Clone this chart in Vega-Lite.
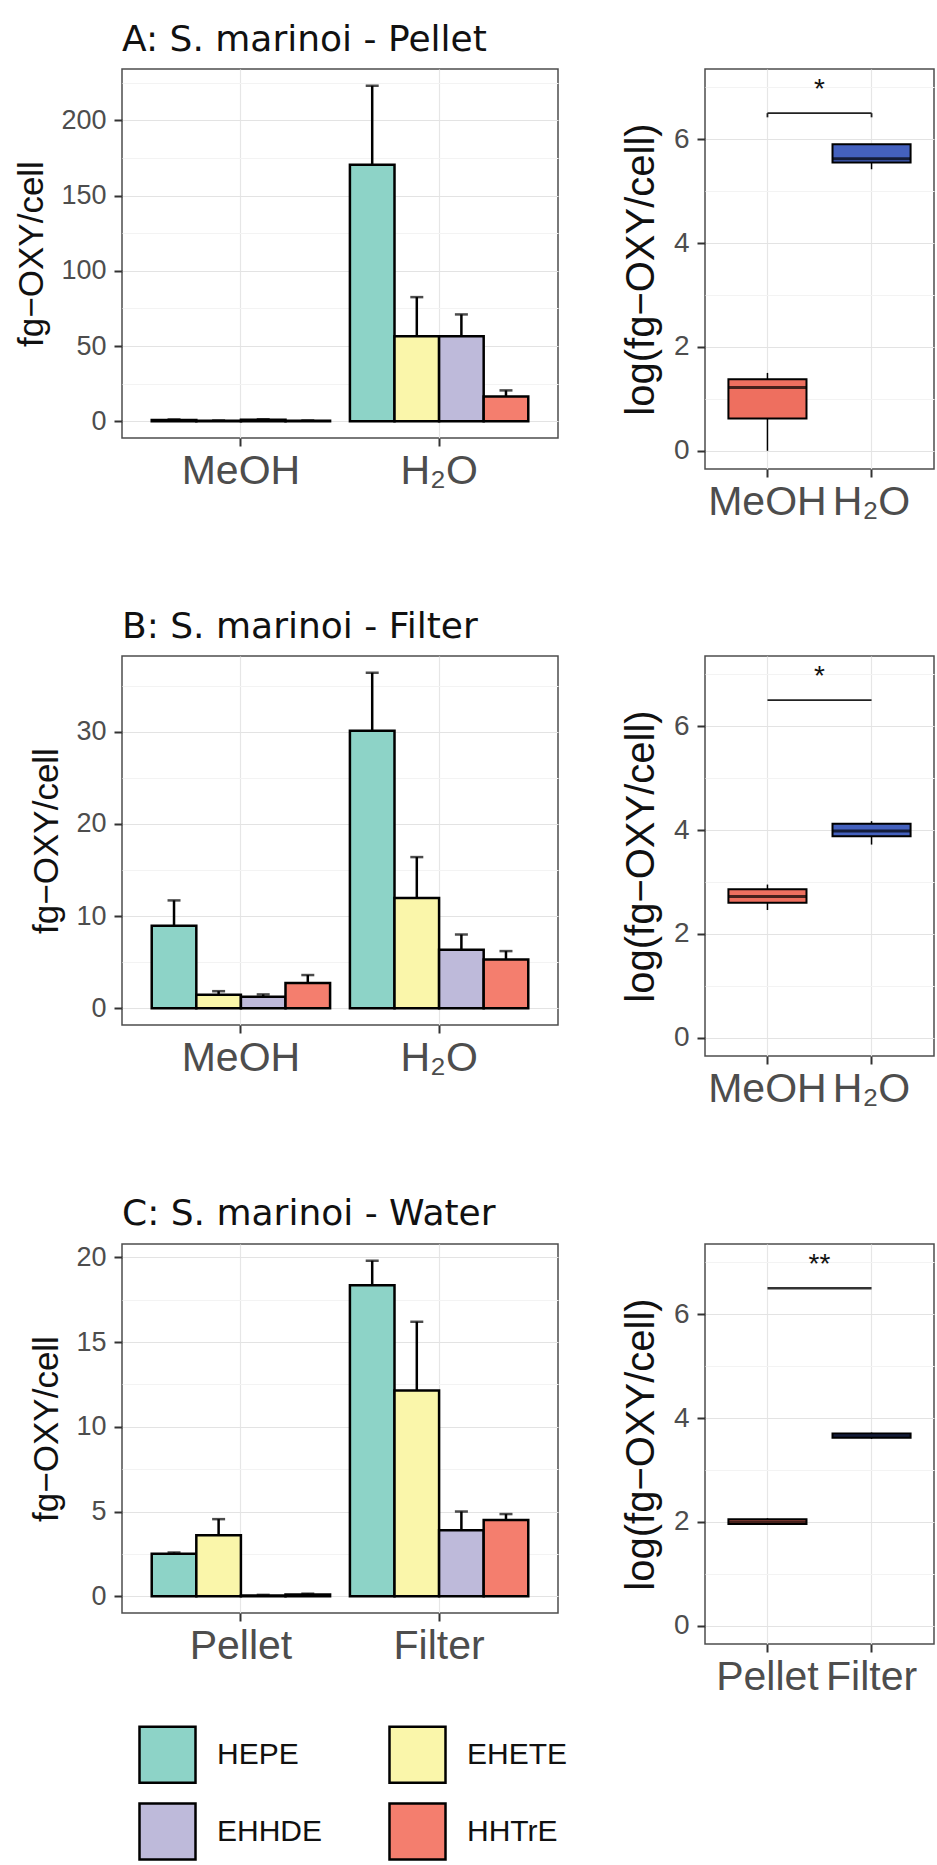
{
  "$schema": "https://vega.github.io/schema/vega-lite/v6.json",
  "padding": {"left": 14, "top": 21, "right": 1, "bottom": 6},
  "background": "white",
  "datasets": {
    "bars": [
      {"panel": "A", "group": "MeOH", "compound": "HEPE", "mean": 0.8, "upper": 1.2},
      {"panel": "A", "group": "MeOH", "compound": "EHETE", "mean": 0.3, "upper": 0.5},
      {"panel": "A", "group": "MeOH", "compound": "EHHDE", "mean": 0.9, "upper": 1.3},
      {"panel": "A", "group": "MeOH", "compound": "HHTrE", "mean": 0.3, "upper": 0.5},
      {"panel": "A", "group": "H₂O", "compound": "HEPE", "mean": 170.5, "upper": 223},
      {"panel": "A", "group": "H₂O", "compound": "EHETE", "mean": 56.5, "upper": 82.5},
      {"panel": "A", "group": "H₂O", "compound": "EHHDE", "mean": 56.5, "upper": 71},
      {"panel": "A", "group": "H₂O", "compound": "HHTrE", "mean": 16.5, "upper": 20.5},
      {"panel": "B", "group": "MeOH", "compound": "HEPE", "mean": 8.95, "upper": 11.7},
      {"panel": "B", "group": "MeOH", "compound": "EHETE", "mean": 1.45, "upper": 1.85},
      {"panel": "B", "group": "MeOH", "compound": "EHHDE", "mean": 1.25, "upper": 1.5},
      {"panel": "B", "group": "MeOH", "compound": "HHTrE", "mean": 2.75, "upper": 3.6},
      {"panel": "B", "group": "H₂O", "compound": "HEPE", "mean": 30.1, "upper": 36.4},
      {"panel": "B", "group": "H₂O", "compound": "EHETE", "mean": 11.95, "upper": 16.4},
      {"panel": "B", "group": "H₂O", "compound": "EHHDE", "mean": 6.35, "upper": 8.0},
      {"panel": "B", "group": "H₂O", "compound": "HHTrE", "mean": 5.3, "upper": 6.2},
      {"panel": "C", "group": "Pellet", "compound": "HEPE", "mean": 2.5, "upper": 2.58},
      {"panel": "C", "group": "Pellet", "compound": "EHETE", "mean": 3.6, "upper": 4.55},
      {"panel": "C", "group": "Pellet", "compound": "EHHDE", "mean": 0.05, "upper": 0.08},
      {"panel": "C", "group": "Pellet", "compound": "HHTrE", "mean": 0.1, "upper": 0.15},
      {"panel": "C", "group": "Filter", "compound": "HEPE", "mean": 18.35, "upper": 19.8},
      {"panel": "C", "group": "Filter", "compound": "EHETE", "mean": 12.15, "upper": 16.2},
      {"panel": "C", "group": "Filter", "compound": "EHHDE", "mean": 3.9, "upper": 5.0},
      {"panel": "C", "group": "Filter", "compound": "HHTrE", "mean": 4.5, "upper": 4.85}
    ],
    "boxes": [
      {"panel": "A", "group": "MeOH", "lower": 0.0, "q1": 0.62, "median": 1.22, "q3": 1.38, "upper": 1.5},
      {"panel": "A", "group": "H₂O", "lower": 5.42, "q1": 5.55, "median": 5.62, "q3": 5.9, "upper": 5.9},
      {"panel": "B", "group": "MeOH", "lower": 2.46, "q1": 2.6, "median": 2.72, "q3": 2.86, "upper": 2.95},
      {"panel": "B", "group": "H₂O", "lower": 3.72, "q1": 3.88, "median": 3.98, "q3": 4.12, "upper": 4.17},
      {"panel": "C", "group": "Pellet", "lower": 1.94, "q1": 1.96, "median": 2.0, "q3": 2.05, "upper": 2.07},
      {"panel": "C", "group": "Filter", "lower": 3.6, "q1": 3.62, "median": 3.66, "q3": 3.7, "upper": 3.72}
    ],
    "sig": [
      {"panel": "A", "x1": 1, "x2": 2, "xmid": 1.5, "y": 6.5, "ylow": 6.42, "ystar": 6.95, "label": "*"},
      {"panel": "B", "x1": 1, "x2": 2, "xmid": 1.5, "y": 6.5, "ylow": null, "ystar": 6.95, "label": "*"},
      {"panel": "C", "x1": 1, "x2": 2, "xmid": 1.5, "y": 6.5, "ylow": null, "ystar": 6.95, "label": "**"}
    ]
  },
  "config": {
    "font": "Liberation Sans",
    "view": {"stroke": "#4D4D4D", "strokeWidth": 1.5},
    "axis": {
      "domain": false, "grid": true, "gridColor": "#E6E6E6", "gridWidth": 1.2,
      "tickColor": "#333333", "tickSize": 8, "tickWidth": 2,
      "labelColor": "#4D4D4D", "labelFont": "Liberation Sans",
      "titleColor": "#111111", "titleFont": "Liberation Sans", "titleFontWeight": "normal", "titleFontSize": 35
    },
    "axisX": {"labelFontSize": 41, "labelPadding": 5, "labelAngle": 0},
    "axisY": {"labelFontSize": 27, "labelPadding": 8, "titlePadding": 11},
    "title": {"font": "DejaVu Sans", "fontSize": 36, "fontWeight": "normal", "anchor": "start", "frame": "group", "offset": 10, "color": "#111111"},
    "legend": {
      "symbolType": "square", "symbolSize": 3136, "symbolStrokeColor": "black", "symbolStrokeWidth": 2.5,
      "labelFontSize": 30, "labelColor": "#111111", "labelFont": "Liberation Sans",
      "columnPadding": 61, "rowPadding": 10, "labelOffset": 20, "padding": 0
    }
  },
  "bounds": "full",
  "spacing": 85,
  "vconcat": [
    {
      "bounds": "flush",
      "spacing": 147,
      "hconcat": [
        {
          "width": 436, "height": 369,
          "title": {"text": "A: S. marinoi - Pellet"},
          "data": {"name": "bars"},
          "transform": [{"filter": "datum.panel === 'A'"}],
          "encoding": {
            "x": {"field": "group", "type": "nominal", "sort": ["MeOH", "H₂O"], "title": null,
                  "scale": {"paddingInner": 0.1, "paddingOuter": 0.15},
                  "axis": {"bandPosition": 0.5, "labelOverlap": false}},
            "xOffset": {"field": "compound", "type": "nominal", "sort": ["HEPE", "EHETE", "EHHDE", "HHTrE"],
                        "scale": {"paddingInner": 0, "paddingOuter": 0}}
          },
          "layer": [
            {"mark": {"type": "rule", "color": "black", "strokeWidth": 2.5},
             "encoding": {"y": {"field": "mean", "type": "quantitative", "title": "fg−OXY/cell"}, "y2": {"field": "upper"}}},
            {"mark": {"type": "tick", "color": "black", "size": 13, "thickness": 2.5, "orient": "horizontal"},
             "encoding": {"y": {"field": "upper", "type": "quantitative", "title": "fg−OXY/cell"}}},
            {"mark": {"type": "bar", "stroke": "black", "strokeWidth": 2.5},
             "encoding": {
               "y": {"field": "mean", "type": "quantitative", "title": "fg−OXY/cell",
                     "scale": {"domain": [-11.15, 234.15], "nice": false, "zero": false},
                     "axis": {"values": [0, 25, 50, 75, 100, 125, 150, 175, 200, 225],
                              "labelExpr": "datum.value % 50 === 0 ? datum.label : ''",
                              "tickOpacity": {"condition": {"test": "datum.value % 50 === 0", "value": 1}, "value": 0},
                              "gridColor": {"condition": {"test": "datum.value % 50 === 0", "value": "#E3E3E3"}, "value": "#F3F3F3"}}},
               "y2": {"datum": 0},
               "fill": {"field": "compound", "type": "nominal",
                        "scale": {"domain": ["HEPE", "EHETE", "EHHDE", "HHTrE"], "range": ["#8DD3C7", "#FAF6AA", "#BEBADA", "#F47E6E"]},
                        "legend": {"orient": "none", "legendX": 16, "legendY": 1656, "direction": "horizontal", "columns": 2, "title": null}}
             }}
          ]
        },
        {
          "width": 229, "height": 400,
          "resolve": {"scale": {"x": "independent"}, "axis": {"x": "independent"}},
          "layer": [
            {
              "data": {"name": "boxes"},
              "transform": [{"filter": "datum.panel === 'A'"}],
              "encoding": {
                "x": {"field": "group", "type": "nominal", "sort": ["MeOH", "H₂O"], "title": null,
                      "scale": {"paddingInner": 0.25, "paddingOuter": 0.225},
                      "axis": {"bandPosition": 0.5, "labelOverlap": false}}
              },
              "layer": [
                {"mark": {"type": "rule", "color": "black", "strokeWidth": 1.5},
                 "encoding": {
                   "y": {"field": "lower", "type": "quantitative", "title": "log(fg−OXY/cell)",
                         "scale": {"domain": [-0.35, 7.35], "nice": false, "zero": false},
                         "axis": {"values": [0, 1, 2, 3, 4, 5, 6, 7], "labelFontSize": 28, "titleFontSize": 40, "titlePadding": 12,
                                  "labelExpr": "datum.value % 2 === 0 ? datum.label : ''",
                                  "tickOpacity": {"condition": {"test": "datum.value % 2 === 0", "value": 1}, "value": 0},
                                  "gridColor": {"condition": {"test": "datum.value % 2 === 0", "value": "#E3E3E3"}, "value": "#F3F3F3"}}},
                   "y2": {"field": "upper"}}},
                {"mark": {"type": "bar", "stroke": "black", "strokeWidth": 2},
                 "encoding": {
                   "y": {"field": "q1", "type": "quantitative", "title": "log(fg−OXY/cell)"}, "y2": {"field": "q3"},
                   "fill": {"condition": {"test": "datum.group === 'MeOH' || datum.group === 'Pellet'", "value": "#EE6F5F"}, "value": "#4461BE"}}},
                {"mark": {"type": "tick", "color": "black", "thickness": 3, "size": 78, "orient": "horizontal"},
                 "encoding": {"y": {"field": "median", "type": "quantitative", "title": "log(fg−OXY/cell)"}}}
              ]
            },
            {
              "data": {"name": "sig"},
              "transform": [{"filter": "datum.panel === 'A'"}],
              "encoding": {
                "x": {"field": "x1", "type": "quantitative", "scale": {"domain": [0.4, 2.6], "nice": false, "zero": false}, "axis": null}
              },
              "layer": [
                {"mark": {"type": "rule", "color": "#222222", "strokeWidth": 1.8},
                 "encoding": {"x2": {"field": "x2"}, "y": {"field": "y", "type": "quantitative", "title": "log(fg−OXY/cell)"}}},
                {"transform": [{"filter": "isValid(datum.ylow)"}],
                 "mark": {"type": "rule", "color": "#222222", "strokeWidth": 1.8},
                 "encoding": {"y": {"field": "ylow", "type": "quantitative", "title": "log(fg−OXY/cell)"}, "y2": {"field": "y"}}},
                {"transform": [{"filter": "isValid(datum.ylow)"}],
                 "mark": {"type": "rule", "color": "#222222", "strokeWidth": 1.8},
                 "encoding": {"x": {"field": "x2", "type": "quantitative"}, "y": {"field": "ylow", "type": "quantitative", "title": "log(fg−OXY/cell)"}, "y2": {"field": "y"}}},
                {"mark": {"type": "text", "fontSize": 28, "baseline": "middle", "align": "center", "color": "#111111"},
                 "encoding": {"x": {"field": "xmid", "type": "quantitative"}, "y": {"field": "ystar", "type": "quantitative", "title": "log(fg−OXY/cell)"}, "text": {"field": "label"}}}
              ]
            }
          ]
        }
      ]
    },
    {
      "bounds": "flush",
      "spacing": 147,
      "hconcat": [
        {
          "width": 436, "height": 369,
          "title": {"text": "B: S. marinoi - Filter"},
          "data": {"name": "bars"},
          "transform": [{"filter": "datum.panel === 'B'"}],
          "encoding": {
            "x": {"field": "group", "type": "nominal", "sort": ["MeOH", "H₂O"], "title": null,
                  "scale": {"paddingInner": 0.1, "paddingOuter": 0.15},
                  "axis": {"bandPosition": 0.5, "labelOverlap": false}},
            "xOffset": {"field": "compound", "type": "nominal", "sort": ["HEPE", "EHETE", "EHHDE", "HHTrE"],
                        "scale": {"paddingInner": 0, "paddingOuter": 0}}
          },
          "layer": [
            {"mark": {"type": "rule", "color": "black", "strokeWidth": 2.5},
             "encoding": {"y": {"field": "mean", "type": "quantitative", "title": "fg−OXY/cell"}, "y2": {"field": "upper"}}},
            {"mark": {"type": "tick", "color": "black", "size": 13, "thickness": 2.5, "orient": "horizontal"},
             "encoding": {"y": {"field": "upper", "type": "quantitative", "title": "fg−OXY/cell"}}},
            {"mark": {"type": "bar", "stroke": "black", "strokeWidth": 2.5},
             "encoding": {
               "y": {"field": "mean", "type": "quantitative", "title": "fg−OXY/cell",
                     "scale": {"domain": [-1.82, 38.22], "nice": false, "zero": false},
                     "axis": {"values": [0, 5, 10, 15, 20, 25, 30, 35],
                              "labelExpr": "datum.value % 10 === 0 ? datum.label : ''",
                              "tickOpacity": {"condition": {"test": "datum.value % 10 === 0", "value": 1}, "value": 0},
                              "gridColor": {"condition": {"test": "datum.value % 10 === 0", "value": "#E3E3E3"}, "value": "#F3F3F3"}}},
               "y2": {"datum": 0},
               "fill": {"field": "compound", "type": "nominal",
                        "scale": {"domain": ["HEPE", "EHETE", "EHHDE", "HHTrE"], "range": ["#8DD3C7", "#FAF6AA", "#BEBADA", "#F47E6E"]},
                        "legend": {"orient": "none", "legendX": 16, "legendY": 1656, "direction": "horizontal", "columns": 2, "title": null}}
             }}
          ]
        },
        {
          "width": 229, "height": 400,
          "resolve": {"scale": {"x": "independent"}, "axis": {"x": "independent"}},
          "layer": [
            {
              "data": {"name": "boxes"},
              "transform": [{"filter": "datum.panel === 'B'"}],
              "encoding": {
                "x": {"field": "group", "type": "nominal", "sort": ["MeOH", "H₂O"], "title": null,
                      "scale": {"paddingInner": 0.25, "paddingOuter": 0.225},
                      "axis": {"bandPosition": 0.5, "labelOverlap": false}}
              },
              "layer": [
                {"mark": {"type": "rule", "color": "black", "strokeWidth": 1.5},
                 "encoding": {
                   "y": {"field": "lower", "type": "quantitative", "title": "log(fg−OXY/cell)",
                         "scale": {"domain": [-0.35, 7.35], "nice": false, "zero": false},
                         "axis": {"values": [0, 1, 2, 3, 4, 5, 6, 7], "labelFontSize": 28, "titleFontSize": 40, "titlePadding": 12,
                                  "labelExpr": "datum.value % 2 === 0 ? datum.label : ''",
                                  "tickOpacity": {"condition": {"test": "datum.value % 2 === 0", "value": 1}, "value": 0},
                                  "gridColor": {"condition": {"test": "datum.value % 2 === 0", "value": "#E3E3E3"}, "value": "#F3F3F3"}}},
                   "y2": {"field": "upper"}}},
                {"mark": {"type": "bar", "stroke": "black", "strokeWidth": 2},
                 "encoding": {
                   "y": {"field": "q1", "type": "quantitative", "title": "log(fg−OXY/cell)"}, "y2": {"field": "q3"},
                   "fill": {"condition": {"test": "datum.group === 'MeOH' || datum.group === 'Pellet'", "value": "#EE6F5F"}, "value": "#4461BE"}}},
                {"mark": {"type": "tick", "color": "black", "thickness": 3, "size": 78, "orient": "horizontal"},
                 "encoding": {"y": {"field": "median", "type": "quantitative", "title": "log(fg−OXY/cell)"}}}
              ]
            },
            {
              "data": {"name": "sig"},
              "transform": [{"filter": "datum.panel === 'B'"}],
              "encoding": {
                "x": {"field": "x1", "type": "quantitative", "scale": {"domain": [0.4, 2.6], "nice": false, "zero": false}, "axis": null}
              },
              "layer": [
                {"mark": {"type": "rule", "color": "#222222", "strokeWidth": 1.8},
                 "encoding": {"x2": {"field": "x2"}, "y": {"field": "y", "type": "quantitative", "title": "log(fg−OXY/cell)"}}},
                {"mark": {"type": "text", "fontSize": 28, "baseline": "middle", "align": "center", "color": "#111111"},
                 "encoding": {"x": {"field": "xmid", "type": "quantitative"}, "y": {"field": "ystar", "type": "quantitative", "title": "log(fg−OXY/cell)"}, "text": {"field": "label"}}}
              ]
            }
          ]
        }
      ]
    },
    {
      "bounds": "flush",
      "spacing": 147,
      "hconcat": [
        {
          "width": 436, "height": 369,
          "title": {"text": "C: S. marinoi - Water"},
          "data": {"name": "bars"},
          "transform": [{"filter": "datum.panel === 'C'"}],
          "encoding": {
            "x": {"field": "group", "type": "nominal", "sort": ["Pellet", "Filter"], "title": null,
                  "scale": {"paddingInner": 0.1, "paddingOuter": 0.15},
                  "axis": {"bandPosition": 0.5, "labelOverlap": false}},
            "xOffset": {"field": "compound", "type": "nominal", "sort": ["HEPE", "EHETE", "EHHDE", "HHTrE"],
                        "scale": {"paddingInner": 0, "paddingOuter": 0}}
          },
          "layer": [
            {"mark": {"type": "rule", "color": "black", "strokeWidth": 2.5},
             "encoding": {"y": {"field": "mean", "type": "quantitative", "title": "fg−OXY/cell"}, "y2": {"field": "upper"}}},
            {"mark": {"type": "tick", "color": "black", "size": 13, "thickness": 2.5, "orient": "horizontal"},
             "encoding": {"y": {"field": "upper", "type": "quantitative", "title": "fg−OXY/cell"}}},
            {"mark": {"type": "bar", "stroke": "black", "strokeWidth": 2.5},
             "encoding": {
               "y": {"field": "mean", "type": "quantitative", "title": "fg−OXY/cell",
                     "scale": {"domain": [-0.99, 20.79], "nice": false, "zero": false},
                     "axis": {"values": [0, 2.5, 5, 7.5, 10, 12.5, 15, 17.5, 20],
                              "labelExpr": "datum.value % 5 === 0 ? datum.label : ''",
                              "tickOpacity": {"condition": {"test": "datum.value % 5 === 0", "value": 1}, "value": 0},
                              "gridColor": {"condition": {"test": "datum.value % 5 === 0", "value": "#E3E3E3"}, "value": "#F3F3F3"}}},
               "y2": {"datum": 0},
               "fill": {"field": "compound", "type": "nominal",
                        "scale": {"domain": ["HEPE", "EHETE", "EHHDE", "HHTrE"], "range": ["#8DD3C7", "#FAF6AA", "#BEBADA", "#F47E6E"]},
                        "legend": {"orient": "none", "legendX": 16, "legendY": 1656, "direction": "horizontal", "columns": 2, "title": null}}
             }}
          ]
        },
        {
          "width": 229, "height": 400,
          "resolve": {"scale": {"x": "independent"}, "axis": {"x": "independent"}},
          "layer": [
            {
              "data": {"name": "boxes"},
              "transform": [{"filter": "datum.panel === 'C'"}],
              "encoding": {
                "x": {"field": "group", "type": "nominal", "sort": ["Pellet", "Filter"], "title": null,
                      "scale": {"paddingInner": 0.25, "paddingOuter": 0.225},
                      "axis": {"bandPosition": 0.5, "labelOverlap": false}}
              },
              "layer": [
                {"mark": {"type": "rule", "color": "black", "strokeWidth": 1.5},
                 "encoding": {
                   "y": {"field": "lower", "type": "quantitative", "title": "log(fg−OXY/cell)",
                         "scale": {"domain": [-0.35, 7.35], "nice": false, "zero": false},
                         "axis": {"values": [0, 1, 2, 3, 4, 5, 6, 7], "labelFontSize": 28, "titleFontSize": 40, "titlePadding": 12,
                                  "labelExpr": "datum.value % 2 === 0 ? datum.label : ''",
                                  "tickOpacity": {"condition": {"test": "datum.value % 2 === 0", "value": 1}, "value": 0},
                                  "gridColor": {"condition": {"test": "datum.value % 2 === 0", "value": "#E3E3E3"}, "value": "#F3F3F3"}}},
                   "y2": {"field": "upper"}}},
                {"mark": {"type": "bar", "stroke": "black", "strokeWidth": 2},
                 "encoding": {
                   "y": {"field": "q1", "type": "quantitative", "title": "log(fg−OXY/cell)"}, "y2": {"field": "q3"},
                   "fill": {"condition": {"test": "datum.group === 'MeOH' || datum.group === 'Pellet'", "value": "#EE6F5F"}, "value": "#4461BE"}}},
                {"mark": {"type": "tick", "color": "black", "thickness": 3, "size": 78, "orient": "horizontal"},
                 "encoding": {"y": {"field": "median", "type": "quantitative", "title": "log(fg−OXY/cell)"}}}
              ]
            },
            {
              "data": {"name": "sig"},
              "transform": [{"filter": "datum.panel === 'C'"}],
              "encoding": {
                "x": {"field": "x1", "type": "quantitative", "scale": {"domain": [0.4, 2.6], "nice": false, "zero": false}, "axis": null}
              },
              "layer": [
                {"mark": {"type": "rule", "color": "#333333", "strokeWidth": 2.5},
                 "encoding": {"x2": {"field": "x2"}, "y": {"field": "y", "type": "quantitative", "title": "log(fg−OXY/cell)"}}},
                {"mark": {"type": "text", "fontSize": 28, "baseline": "middle", "align": "center", "color": "#111111"},
                 "encoding": {"x": {"field": "xmid", "type": "quantitative"}, "y": {"field": "ystar", "type": "quantitative", "title": "log(fg−OXY/cell)"}, "text": {"field": "label"}}}
              ]
            }
          ]
        }
      ]
    }
  ]
}
